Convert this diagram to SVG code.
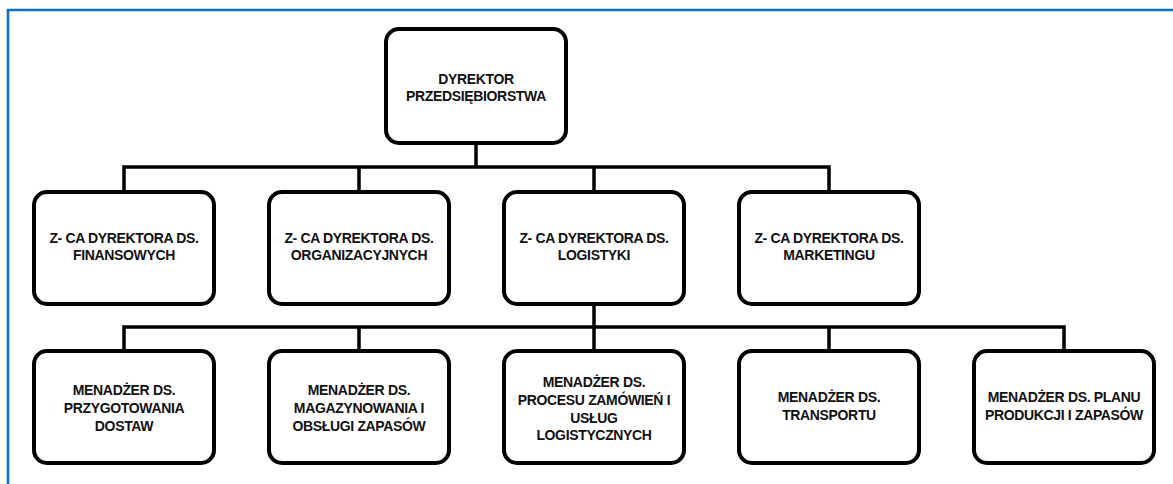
<svg xmlns="http://www.w3.org/2000/svg" width="1173" height="484" viewBox="0 0 1173 484">
<style>
.box{fill:#fff;stroke:#000;stroke-width:4}
.t{font-family:"Liberation Sans",Arial,sans-serif;font-weight:bold;font-size:14px;letter-spacing:-0.35px;fill:#111;text-anchor:middle}
.c{fill:none;stroke:#000;stroke-width:3.5}
</style>
<rect width="1173" height="484" fill="#fff"/>
<path d="M8,484 V10 H1173" fill="none" stroke="#0B70C2" stroke-width="2.6"/>
<g id="connectors" class="c">
<path d="M476,145 V167 M124,167 H829 M124,165.25 V190 M359,167 V190 M594,167 V190 M829,165.25 V190"/>
<path d="M594,306 V327 M124,327 H1064 M124,325.25 V349 M359,327 V349 M594,327 V349 M829,327 V349 M1064,325.25 V349"/>
</g>
<g id="n0"><rect class="box" x="386" y="29" width="180" height="114" rx="13"/>
<text class="t" x="476" y="83.5">DYREKTOR</text><text class="t" x="476" y="100.5">PRZEDSIĘBIORSTWA</text></g>
<g id="n1"><rect class="box" x="34" y="192" width="180" height="112" rx="13"/>
<text class="t" x="124" y="243">Z- CA DYREKTORA DS.</text><text class="t" x="124" y="260">FINANSOWYCH</text></g>
<g id="n2"><rect class="box" x="269" y="192" width="180" height="112" rx="13"/>
<text class="t" x="359" y="243">Z- CA DYREKTORA DS.</text><text class="t" x="359" y="260">ORGANIZACYJNYCH</text></g>
<g id="n3"><rect class="box" x="504" y="192" width="180" height="112" rx="13"/>
<text class="t" x="594" y="243">Z- CA DYREKTORA DS.</text><text class="t" x="594" y="260">LOGISTYKI</text></g>
<g id="n4"><rect class="box" x="739" y="192" width="180" height="112" rx="13"/>
<text class="t" x="829" y="243">Z- CA DYREKTORA DS.</text><text class="t" x="829" y="260">MARKETINGU</text></g>
<g id="n5"><rect class="box" x="34" y="351" width="180" height="112" rx="13"/>
<text class="t" x="124" y="394.5">MENADŻER DS.</text><text class="t" x="124" y="412.5">PRZYGOTOWANIA</text><text class="t" x="124" y="430.5">DOSTAW</text></g>
<g id="n6"><rect class="box" x="269" y="351" width="180" height="112" rx="13"/>
<text class="t" x="359" y="394.5">MENADŻER DS.</text><text class="t" x="359" y="412.5">MAGAZYNOWANIA I</text><text class="t" x="359" y="430.5">OBSŁUGI ZAPASÓW</text></g>
<g id="n7"><rect class="box" x="504" y="351" width="180" height="112" rx="13"/>
<text class="t" x="594" y="387">MENADŻER DS.</text><text class="t" x="594" y="405">PROCESU ZAMÓWIEŃ I</text><text class="t" x="594" y="422.5">USŁUG</text><text class="t" x="594" y="440">LOGISTYCZNYCH</text></g>
<g id="n8"><rect class="box" x="739" y="351" width="180" height="112" rx="13"/>
<text class="t" x="829" y="402">MENADŻER DS.</text><text class="t" x="829" y="420">TRANSPORTU</text></g>
<g id="n9"><rect class="box" x="974" y="351" width="180" height="112" rx="13"/>
<text class="t" x="1064" y="402">MENADŻER DS. PLANU</text><text class="t" x="1064" y="420">PRODUKCJI I ZAPASÓW</text></g>
</svg>
